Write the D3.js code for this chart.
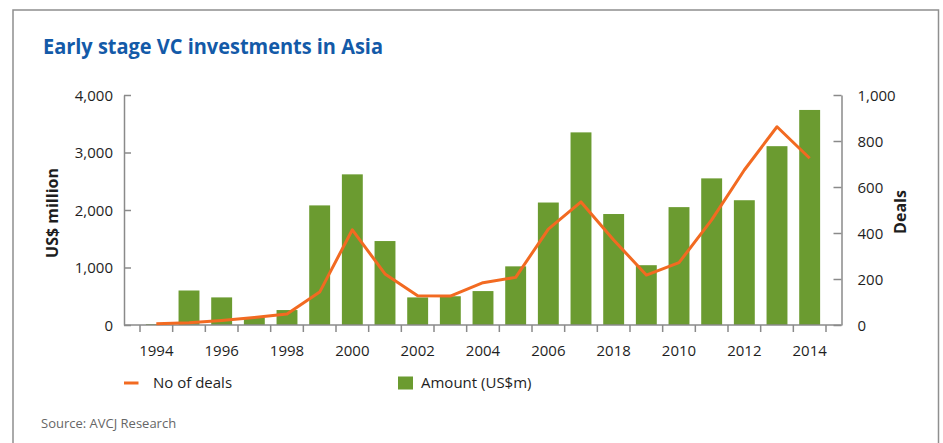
<!DOCTYPE html>
<html>
<head>
<meta charset="utf-8">
<script src="https://cdn.jsdelivr.net/npm/d3@7"></script>
<style>
  html, body { margin: 0; padding: 0; background: #fff; }
  svg { display: block; font-family: "Open Sans", "Noto Sans", sans-serif; }
</style>
</head>
<body>
<svg id="chart" width="943" height="443"></svg>
<script>
// ---- data ----
const years = [1994,1995,1996,1997,1998,1999,2000,2001,2002,2003,2004,2005,2006,2007,2008,2009,2010,2011,2012,2013,2014];
const amounts = [15,600,480,130,260,2080,2620,1460,480,500,590,1020,2130,3350,1930,1040,2050,2550,2170,3110,3740];
const deals = [5,10,20,33,48,143,414,222,127,126,184,207,417,535,370,217,271,457,674,862,725];
// tick labels as printed in the source (every second year)
const tickYears = [1994,1996,1998,2000,2002,2004,2006,2008,2010,2012,2014];
const tickLabels = ["1994","1996","1998","2000","2002","2004","2006","2018","2010","2012","2014"];
const leftTicks = [0,1000,2000,3000,4000];
const rightTicks = [0,200,400,600,800,1000];

const svg = d3.select("#chart");
const GREEN = "#6b9b30", ORANGE = "#f26a21", AXIS = "#8a8a8a", TXT = "#1e1e1e";

// frame
svg.append("path")
  .attr("d", "M13,443 L13,10 L938.5,10 L938.5,443")
  .attr("fill", "none").attr("stroke", "#8f8f8f").attr("stroke-width", 1.5);

// title
svg.append("text").attr("x", 43).attr("y", 54)
  .attr("fill", "#135aa8").attr("font-size", 22).attr("font-weight", 700)
  .attr("textLength", 340).attr("lengthAdjust", "spacingAndGlyphs")
  .text("Early stage VC investments in Asia");

const plotTop = 95, plotBottom = 325, axL = 124, axR = 841.5;
const x = d3.scaleBand().domain(years).range([140, 826]).paddingInner(0).paddingOuter(0);
const yL = d3.scaleLinear().domain([0, 4000]).range([plotBottom, plotTop]);
const yR = d3.scaleLinear().domain([0, 1000]).range([plotBottom, plotTop]);
const fmt = d3.format(",");

// bars
const barW = x.bandwidth() * 0.64;
svg.append("g").selectAll("rect").data(years).join("rect")
  .attr("x", (d) => x(d) + (x.bandwidth() - barW) / 2)
  .attr("width", barW)
  .attr("y", (d, i) => yL(amounts[i]))
  .attr("height", (d, i) => plotBottom - yL(amounts[i]))
  .attr("fill", GREEN);

// left axis
const gL = svg.append("g").attr("transform", `translate(${axL},0)`)
  .call(d3.axisLeft(yL).tickValues(leftTicks).tickFormat(fmt).tickSizeInner(-7).tickSizeOuter(0).tickPadding(11));
gL.select(".domain").attr("stroke", AXIS).attr("stroke-width", 1.5);
gL.selectAll(".tick line").attr("stroke", AXIS).attr("stroke-width", 1.5);
gL.selectAll(".tick text").attr("font-size", 15).attr("fill", TXT).attr("font-family", "Open Sans").attr("dy", "0.35em");

// right axis
const gR = svg.append("g").attr("transform", `translate(${axR},0)`)
  .call(d3.axisRight(yR).tickValues(rightTicks).tickFormat(fmt).tickSizeInner(-8).tickSizeOuter(0).tickPadding(16));
gR.select(".domain").attr("stroke", AXIS).attr("stroke-width", 1.5);
gR.selectAll(".tick line").attr("stroke", AXIS).attr("stroke-width", 1.5);
gR.selectAll(".tick text").attr("font-size", 15).attr("fill", TXT).attr("font-family", "Open Sans").attr("dy", "0.35em");

// x axis baseline
svg.append("line").attr("x1", axL).attr("x2", axR).attr("y1", plotBottom).attr("y2", plotBottom)
  .attr("stroke", AXIS).attr("stroke-width", 1.5);
// x ticks at band boundaries
const bounds = years.map((d) => x(d)).concat([x(years[years.length - 1]) + x.bandwidth()]);
svg.append("g").selectAll("line").data(bounds).join("line")
  .attr("x1", (d) => d).attr("x2", (d) => d)
  .attr("y1", plotBottom).attr("y2", plotBottom + 7)
  .attr("stroke", AXIS).attr("stroke-width", 1.5);
// x tick labels
svg.append("g").selectAll("text").data(tickYears).join("text")
  .attr("x", (d) => x(d) + x.bandwidth() / 2)
  .attr("y", 356)
  .attr("text-anchor", "middle").attr("font-size", 15).attr("fill", TXT)
  .text((d, i) => tickLabels[i]);

// line
const line = d3.line().x((d) => x(d) + x.bandwidth() / 2).y((d, i) => yR(deals[i]));
svg.append("path").datum(years).attr("d", line)
  .attr("fill", "none").attr("stroke", ORANGE).attr("stroke-width", 3).attr("stroke-linejoin", "round");

// axis titles
svg.append("text").attr("transform", "translate(58,213) rotate(-90)")
  .attr("text-anchor", "middle").attr("font-size", 16).attr("font-weight", 700).attr("fill", TXT)
  .text("US$ million");
svg.append("text").attr("transform", "translate(906,212) rotate(-90)")
  .attr("text-anchor", "middle").attr("font-size", 16).attr("font-weight", 700).attr("fill", TXT)
  .text("Deals");

// legend
svg.append("line").attr("x1", 124).attr("x2", 138.5).attr("y1", 383).attr("y2", 383)
  .attr("stroke", ORANGE).attr("stroke-width", 3);
svg.append("text").attr("x", 153).attr("y", 388).attr("font-size", 15).attr("fill", TXT).text("No of deals");
svg.append("rect").attr("x", 398).attr("y", 376.5).attr("width", 15).attr("height", 13).attr("fill", GREEN);
svg.append("text").attr("x", 421).attr("y", 388).attr("font-size", 15).attr("fill", TXT).text("Amount (US$m)");

// source
svg.append("text").attr("x", 41).attr("y", 428).attr("font-size", 13).attr("fill", "#666")
  .text("Source: AVCJ Research");
</script>
</body>
</html>
